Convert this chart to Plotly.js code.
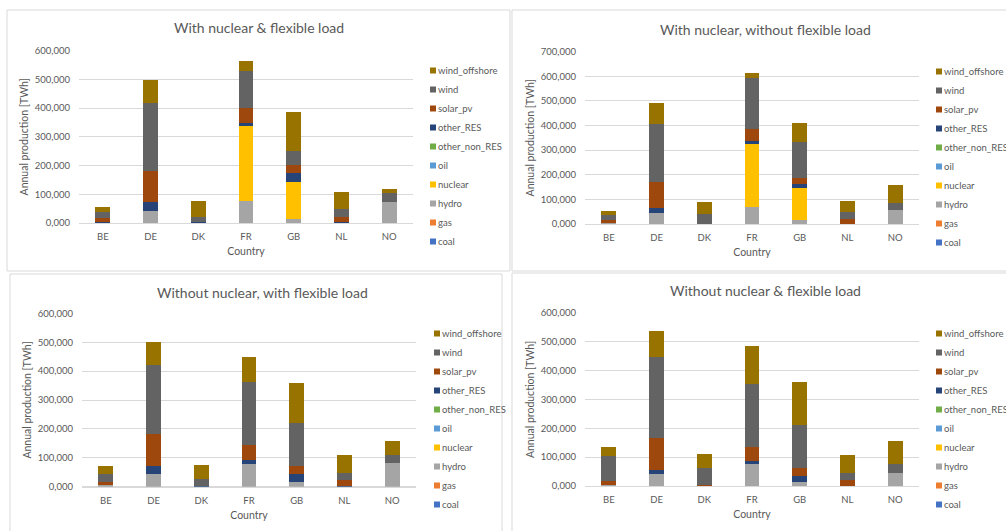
<!DOCTYPE html>
<html>
<head>
<meta charset="utf-8">
<script src="https://cdn.plot.ly/plotly-3.0.1.min.js"></script>
<style>
  html, body { margin: 0; padding: 0; background: #ffffff; }
  #chart { width: 1006px; height: 531px; }
</style>
</head>
<body>
<div id="chart"></div>
<script>
// Countries on the category axis
const countries = ['BE', 'DE', 'DK', 'FR', 'GB', 'NL', 'NO'];

// Technologies in stacking order (bottom to top) and their fill colours
const technologies = ['coal', 'gas', 'hydro', 'nuclear', 'oil', 'other_non_RES', 'other_RES', 'solar_pv', 'wind', 'wind_offshore'];
const techColors = ['#4472C4', '#ED7D31', '#A5A5A5', '#FFC000', '#5B9BD5', '#70AD47', '#264478', '#9E480E', '#636363', '#997300'];

// Scenario titles
const scenarioTitles = [
  'With nuclear & flexible load',
  'With nuclear, without flexible load',
  'Without nuclear, with flexible load',
  'Without nuclear & flexible load'
];

// Annual production [TWh] per country, one array per technology and scenario
const noOutput = [0, 0, 0, 0, 0, 0, 0];

// With nuclear & flexible load
const s1Hydro        = [4, 43, 0, 77, 14, 0, 72];
const s1Nuclear      = [0, 0, 0, 261, 130, 0, 0];
const s1OtherRES     = [1, 31, 2, 11, 30, 2, 0];
const s1SolarPV      = [11, 107, 0, 51, 27, 19, 0];
const s1Wind         = [21, 238, 19, 129, 51, 27, 31];
const s1WindOffshore = [18, 78, 54, 35, 135, 59, 14];

// With nuclear, without flexible load
const s2Hydro        = [4, 43, 0, 69, 16, 0, 57];
const s2Nuclear      = [0, 0, 0, 261, 131, 0, 0];
const s2OtherRES     = [0, 20, 0, 6, 14, 1, 0];
const s2SolarPV      = [12, 109, 2, 51, 27, 21, 0];
const s2Wind         = [20, 235, 37, 207, 146, 25, 28];
const s2WindOffshore = [18, 84, 50, 18, 75, 45, 72];

// Without nuclear, with flexible load
const s3Hydro        = [5, 43, 0, 77, 15, 0, 81];
const s3OtherRES     = [1, 30, 2, 17, 30, 2, 0];
const s3SolarPV      = [11, 111, 0, 51, 28, 20, 0];
const s3Wind         = [27, 236, 23, 217, 149, 24, 30];
const s3WindOffshore = [29, 79, 51, 87, 136, 63, 48];

// Without nuclear & flexible load
const s4Hydro        = [4, 41, 0, 78, 15, 0, 46];
const s4OtherRES     = [0, 16, 0, 9, 19, 1, 0];
const s4SolarPV      = [12, 108, 2, 49, 28, 20, 0];
const s4Wind         = [88, 281, 60, 218, 150, 24, 30];
const s4WindOffshore = [33, 92, 48, 131, 147, 61, 81];

// Series per scenario, in the same order as `technologies`
const scenarioSeries = [
  [noOutput, noOutput, s1Hydro, s1Nuclear, noOutput, noOutput, s1OtherRES, s1SolarPV, s1Wind, s1WindOffshore],
  [noOutput, noOutput, s2Hydro, s2Nuclear, noOutput, noOutput, s2OtherRES, s2SolarPV, s2Wind, s2WindOffshore],
  [noOutput, noOutput, s3Hydro, noOutput, noOutput, noOutput, s3OtherRES, s3SolarPV, s3Wind, s3WindOffshore],
  [noOutput, noOutput, s4Hydro, noOutput, noOutput, noOutput, s4OtherRES, s4SolarPV, s4Wind, s4WindOffshore]
];
const axisMax = [600, 700, 600, 600];

// ---- page geometry (pixels on the 1006 x 531 canvas) ----
const W = 1006, H = 531;
const fx = px => px / W;
const fy = py => 1 - py / H;

const panels = [
  { plot: [79, 413, 50.7, 223],    frame: [7, 510, 10, 271],    titleX: 259, titleY: 28,  legendX: 398, legendY: 56 },
  { plot: [585, 919, 51.7, 224],   frame: [512, 1012, 10, 271], titleX: 765, titleY: 29,  legendX: 904, legendY: 57 },
  { plot: [82, 416, 313.3, 486.7], frame: [10, 502, 274, 540],  titleX: 262, titleY: 292, legendX: 402, legendY: 319 },
  { plot: [585, 919, 313, 486],    frame: [512, 1012, 273, 540], titleX: 765, titleY: 291, legendX: 904, legendY: 319 }
];

const textColor = '#595959';
const gridColor = '#D9D9D9';
const fontFamily = 'Lato, "Open Sans", sans-serif';

const traces = [];
const layout = {
  width: W, height: H,
  margin: { l: 0, r: 0, t: 0, b: 0, autoexpand: false },
  paper_bgcolor: '#ffffff',
  plot_bgcolor: '#ffffff',
  barmode: 'stack',
  bargap: 0.69,
  separators: ', ',
  showlegend: true,
  font: { family: fontFamily, size: 9.5, color: textColor },
  annotations: [],
  shapes: []
};

panels.forEach((p, i) => {
  const n = i + 1;
  const suffix = n === 1 ? '' : String(n);
  const legendId = 'legend' + suffix;

  technologies.forEach((tech, k) => {
    traces.push({
      type: 'bar',
      name: tech,
      x: countries,
      y: scenarioSeries[i][k],
      xaxis: 'x' + suffix,
      yaxis: 'y' + suffix,
      legend: legendId,
      marker: { color: techColors[k], line: { width: 0 } },
      hovertemplate: '%{x} ' + tech + ': %{y} TWh<extra></extra>'
    });
  });

  const [x0, x1, yTop, yBottom] = p.plot;
  layout['xaxis' + suffix] = {
    domain: [fx(x0), fx(x1)],
    anchor: 'y' + suffix,
    showgrid: false,
    showline: true,
    linecolor: gridColor,
    linewidth: 1,
    ticks: '',
    ticklabelstandoff: 5,
    tickfont: { family: fontFamily, size: 9.5, color: textColor },
    title: { text: 'Country', font: { family: fontFamily, size: 10.5, color: textColor }, standoff: 6 },
    fixedrange: true
  };
  layout['yaxis' + suffix] = {
    domain: [fy(yBottom), fy(yTop)],
    anchor: 'x' + suffix,
    range: [0, axisMax[i]],
    dtick: 100,
    tickformat: '.3f',
    showgrid: true,
    gridcolor: gridColor,
    gridwidth: 1,
    zeroline: true,
    zerolinecolor: gridColor,
    showline: false,
    ticks: '',
    ticklabelstandoff: 8,
    tickfont: { family: fontFamily, size: 9.5, color: textColor },
    title: { text: 'Annual production [TWh]', font: { family: fontFamily, size: 10.5, color: textColor }, standoff: 4 },
    fixedrange: true
  };

  layout[legendId] = {
    x: fx(p.legendX), y: fy(p.legendY),
    xref: 'paper', yref: 'paper',
    xanchor: 'left', yanchor: 'top',
    orientation: 'v',
    traceorder: 'reversed',
    tracegroupgap: 0,
    bgcolor: 'rgba(0,0,0,0)',
    borderwidth: 0,
    font: { family: fontFamily, size: 9.5, color: textColor },
    itemclick: false, itemdoubleclick: false
  };

  layout.annotations.push({
    text: scenarioTitles[i],
    xref: 'paper', yref: 'paper',
    x: fx(p.titleX), y: fy(p.titleY),
    xanchor: 'center', yanchor: 'middle',
    showarrow: false,
    font: { family: fontFamily, size: 14, color: textColor }
  });

  const [f0, f1, g0, g1] = p.frame;
  layout.shapes.push({
    type: 'rect', xref: 'paper', yref: 'paper',
    x0: fx(f0), x1: fx(f1), y0: fy(g1), y1: fy(g0),
    line: { color: gridColor, width: 1 },
    fillcolor: 'rgba(0,0,0,0)',
    layer: 'below'
  });
});

Plotly.newPlot('chart', traces, layout, { displayModeBar: false }).then(() => {
  // smaller square swatches placed right before the legend labels
  document.querySelectorAll('#chart .legendpoints path').forEach(path => {
    const t = path.getAttribute('transform') || '';
    path.setAttribute('transform', t + ' translate(15,0) scale(0.5)');
  });
});
</script>
</body>
</html>
